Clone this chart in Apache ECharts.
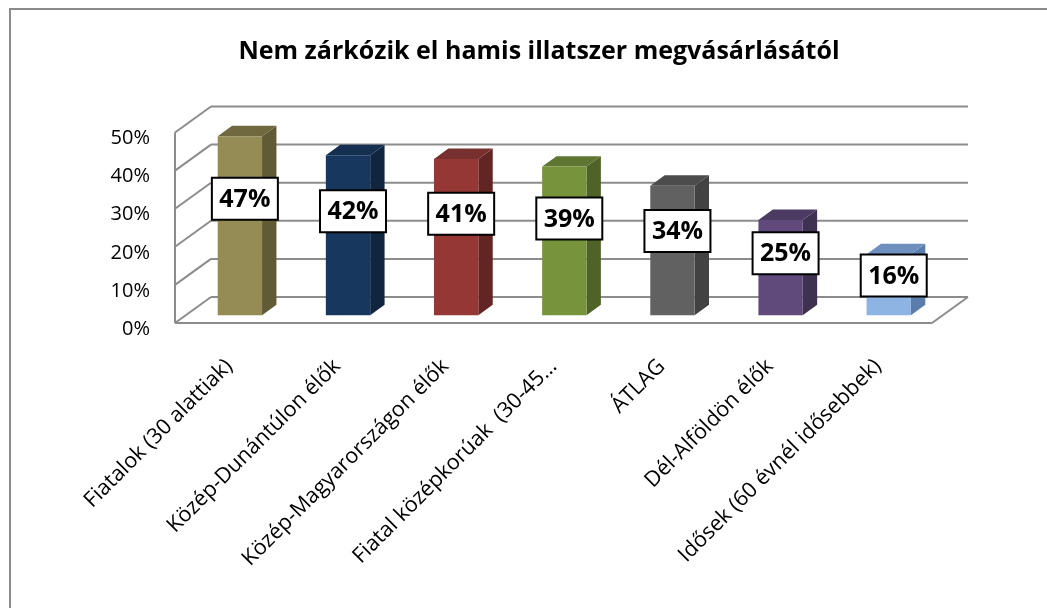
<!DOCTYPE html>
<html>
<head>
<meta charset="utf-8">
<script src="https://cdn.jsdelivr.net/npm/echarts@6/dist/echarts.min.js"></script>
<style>
html, body { margin: 0; padding: 0; background: #fff; }
#chart { width: 1047px; height: 608px; }
</style>
</head>
<body>
<div id="chart"></div>
<script>
var categories = ['Fiatalok (30 alattiak)', 'Közép-Dunántúlon élők', 'Közép-Magyarországon élők',
	'Fiatal középkorúak  (30-45…', 'ÁTLAG', 'Dél-Alföldön élők', 'Idősek (60 évnél idősebbek)'];
var values = [0.47, 0.42, 0.41, 0.39, 0.34, 0.25, 0.16];
var yTicks = [0, 0.1, 0.2, 0.3, 0.4, 0.5];

// face colours: front, side, top
var frontColors = ['#958B55', '#17375E', '#953735', '#77933C', '#616161', '#604A7B', '#8DB4E2'];
var sideColors = ['#605A35', '#10253F', '#632523', '#4F6228', '#424242', '#3F3151', '#5B7DAE'];
var topColors = ['#706940', '#142F50', '#77302D', '#5F7632', '#4C4C4C', '#4B3A62', '#6F90BE'];

var DX = 36, DY = -26; // depth of the 3d box
var FONT = '"Open Sans", "Noto Sans", sans-serif';

var chart = echarts.init(document.getElementById('chart'));

//back wall + side wall + floor
function renderWalls(params, api) {
	var cs = params.coordSys;
	var x0 = cs.x, x1 = cs.x + cs.width;
	var v = api.value(1);
	var y = api.coord([0, v])[1];
	var st = { stroke: '#8C8C8C', lineWidth: 2, fill: null };
	var kids = [
		{ type: 'line', shape: { x1: x0, y1: y, x2: x0 + DX, y2: y + DY }, style: st },
		{ type: 'line', shape: { x1: x0 + DX, y1: y + DY, x2: x1 + DX, y2: y + DY }, style: st }
	];
	if (v === 0) {
		var yTop = api.coord([0, yTicks[yTicks.length - 1]])[1];
		kids.push({ type: 'line', shape: { x1: x0, y1: y, x2: x1, y2: y }, style: st });
		kids.push({ type: 'line', shape: { x1: x1, y1: y, x2: x1 + DX, y2: y + DY }, style: st });
		kids.push({ type: 'line', shape: { x1: x0, y1: y, x2: x0, y2: yTop }, style: st });
	}
	return { type: 'group', children: kids };
}

//3d bars with value box
function renderBar(params, api) {
	var i = api.value(0), v = api.value(1);
	var base = api.coord([i, 0]);
	var top = api.coord([i, v]);
	var bw = api.size([1, 0])[0] * 0.41;
	var fx = DX * 0.3, fy = DY * 0.3;
	var ddx = DX * 0.4, ddy = DY * 0.4;
	var l = base[0] - bw / 2 + fx, r = base[0] + bw / 2 + fx;
	var yb = base[1] + fy, yt = top[1] + fy;
	var ly = api.coord([i, v * 0.65])[1] + fy;
	var cx = (l + r) / 2 + 5;
	return {
		type: 'group',
		children: [
			{ type: 'polygon', shape: { points: [[r, yb], [r + ddx, yb + ddy], [r + ddx, yt + ddy], [r, yt]] },
				style: { fill: sideColors[i] } },
			{ type: 'polygon', shape: { points: [[l, yt], [r, yt], [r + ddx, yt + ddy], [l + ddx, yt + ddy]] },
				style: { fill: topColors[i] } },
			{ type: 'rect', shape: { x: l, y: yt, width: r - l, height: yb - yt },
				style: { fill: frontColors[i] } },
			{ type: 'rect', shape: { x: cx - 33, y: ly - 21, width: 66, height: 42 },
				style: { fill: '#fff', stroke: '#000', lineWidth: 2 } },
			{ type: 'text', x: cx, y: ly + 1,
				style: { text: Math.round(v * 100) + '%', fill: '#000', font: 'bold 25px ' + FONT,
					align: 'center', verticalAlign: 'middle' } }
		]
	};
}

var option = {
	backgroundColor: '#fff',
	animation: false,
	title: {
		text: 'Nem zárkózik el hamis illatszer megvásárlásától',
		left: 534,
		top: 34,
		textAlign: 'center',
		textStyle: { fontFamily: FONT, fontSize: 25, fontWeight: 'bold', color: '#000' }
	},
	graphic: [{
		type: 'rect',
		shape: { x: 10, y: 9, width: 1100, height: 700 },
		style: { fill: null, stroke: '#8A8A8A', lineWidth: 2 },
		z: 100
	}],
	grid: { left: 175, right: 115, top: 132.5, bottom: 285 },
	xAxis: {
		type: 'category',
		data: categories,
		axisLine: { show: false },
		axisTick: { show: false },
		axisLabel: {
			interval: 0,
			rotate: 45,
			margin: 40,
			fontFamily: FONT,
			fontSize: 21.5,
			color: '#000'
		}
	},
	yAxis: {
		type: 'value',
		min: 0,
		max: 0.5,
		interval: 0.1,
		axisLine: { show: false },
		axisTick: { show: false },
		splitLine: { show: false },
		axisLabel: {
			margin: 25,
			fontFamily: FONT,
			fontSize: 20,
			color: '#000',
			verticalAlign: 'top',
			lineHeight: 12,
			formatter: function (v) { return Math.round(v * 100) + '%'; }
		}
	},
	series: [{
		type: 'custom',
		renderItem: renderWalls,
		data: yTicks.map(function (t) { return [0, t]; }),
		z: 1,
		silent: true
	}, {
		type: 'custom',
		renderItem: renderBar,
		data: values.map(function (v, i) { return [i, v]; }),
		z: 5
	}]
};

chart.setOption(option);
</script>
</body>
</html>
